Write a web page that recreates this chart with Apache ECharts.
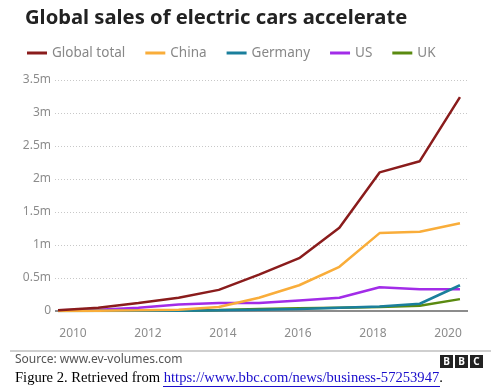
<!DOCTYPE html>
<html>
<head>
<meta charset="utf-8">
<script src="https://cdn.jsdelivr.net/npm/echarts@6/dist/echarts.min.js"></script>
<style>
html,body{margin:0;padding:0;background:#fff;}
#chart{width:499px;height:392px;}
</style>
</head>
<body>
<div id="chart"></div>
<script>
// ---- data ----
const years = [2010, 2011, 2012, 2013, 2014, 2015, 2016, 2017, 2018, 2019, 2020];
const globalTotal = [0.01, 0.05, 0.12, 0.2, 0.32, 0.55, 0.8, 1.26, 2.1, 2.27, 3.24];
const china = [0.0, 0.005, 0.01, 0.02, 0.06, 0.2, 0.39, 0.67, 1.18, 1.2, 1.33];
const germany = [0.0, 0.002, 0.003, 0.005, 0.01, 0.02, 0.03, 0.05, 0.07, 0.11, 0.39];
const us = [0.01, 0.02, 0.05, 0.1, 0.12, 0.12, 0.16, 0.2, 0.36, 0.33, 0.33];
const uk = [0.0, 0.001, 0.002, 0.004, 0.015, 0.03, 0.04, 0.05, 0.06, 0.08, 0.18];
const xTickLabels = [2010, 2012, 2014, 2016, 2018, 2020];
const yTickValues = [0, 0.5, 1, 1.5, 2, 2.5, 3, 3.5];
const yTickLabels = ['0', '0.5m', '1m', '1.5m', '2m', '2.5m', '3m', '3.5m'];
const seriesNames = ['Global total', 'China', 'Germany', 'US', 'UK'];
const seriesColors = ['#8a1c1c', '#f9ad3a', '#1a7f9c', '#a22ce8', '#5a8a10'];
const seriesData = [globalTotal, china, germany, us, uk];

const chart = echarts.init(document.getElementById('chart'), null, {renderer: 'canvas'});
const font = '"Noto Sans", "Open Sans", sans-serif';

const series = seriesNames.map((name, i) => ({
  name: name,
  type: 'line',
  xAxisIndex: 0,
  data: years.map((y, k) => [y, seriesData[i][k]]),
  symbol: 'none',
  z: 10 - i,
  lineStyle: {color: seriesColors[i], width: 2.5},
  itemStyle: {color: seriesColors[i]}
})).reverse();

chart.setOption({
  animation: false,
  backgroundColor: '#fff',
  title: {
    text: 'Global sales of electric cars accelerate',
    left: 20, top: 3,
    textStyle: {fontFamily: font, fontWeight: 'bold', fontSize: 20.2, color: '#222'}
  },
  legend: {
    data: seriesNames,
    left: 22, top: 41,
    icon: 'rect',
    itemWidth: 20, itemHeight: 3,
    itemGap: 20,
    textStyle: {fontFamily: font, fontSize: 13.5, color: '#888'}
  },
  grid: {left: 55, right: 31, top: 80, bottom: 81, containLabel: false},
  xAxis: [
    {
      type: 'value', min: 2009.925, max: 2020.2,
      show: false
    },
    {
      type: 'value', min: 2009.52, max: 2020.533,
      position: 'bottom',
      axisLine: {show: false},
      axisTick: {show: false},
      splitLine: {show: false},
      axisLabel: {
        customValues: xTickLabels,
        formatter: v => String(v),
        fontFamily: font, fontSize: 12, color: '#8c8c8c', margin: 17
      }
    }
  ],
  yAxis: {
    type: 'value', min: 0, max: 3.5, interval: 0.5,
    axisLine: {show: false},
    axisTick: {show: false},
    axisLabel: {
      formatter: v => yTickLabels[yTickValues.indexOf(v)] ?? '',
      fontFamily: font, fontSize: 12, color: '#8c8c8c', margin: 4
    },
    splitLine: {
      lineStyle: {color: '#c8c8c8', type: [1, 2], width: 1},
      showMinLine: false
    }
  },
  series: [
    {
      type: 'line', xAxisIndex: 0, silent: true, symbol: 'none',
      data: [],
      markLine: {
        silent: true, symbol: 'none', label: {show: false},
        lineStyle: {color: '#666', type: 'solid', width: 1.5},
        data: [{yAxis: 0}]
      },
      z: 1
    }
  ].concat(series),
  graphic: [
    {type: 'rect', shape: {x: 10, y: 350, width: 481, height: 2}, style: {fill: '#cfcfcf'}},
    {type: 'text', left: 15, top: 354, style: {text: 'Source: www.ev-volumes.com', font: '12px "Noto Sans", sans-serif', fill: '#555'}},
    {type: 'group', left: 440, top: 355, children: [
      {type: 'rect', shape: {x: 0, y: 0, width: 13, height: 13}, style: {fill: '#222'}},
      {type: 'text', x: 6.5, y: 7, style: {text: 'B', font: 'bold 10px "Noto Sans", sans-serif', fill: '#fff', align: 'center', verticalAlign: 'middle'}},
      {type: 'rect', shape: {x: 15, y: 0, width: 13, height: 13}, style: {fill: '#222'}},
      {type: 'text', x: 21.5, y: 7, style: {text: 'B', font: 'bold 10px "Noto Sans", sans-serif', fill: '#fff', align: 'center', verticalAlign: 'middle'}},
      {type: 'rect', shape: {x: 30, y: 0, width: 13, height: 13}, style: {fill: '#222'}},
      {type: 'text', x: 36.5, y: 7, style: {text: 'C', font: 'bold 10px "Noto Sans", sans-serif', fill: '#fff', align: 'center', verticalAlign: 'middle'}}
    ]},
    {type: 'text', left: 15, top: 371, style: {
      text: '{a|Figure 2. Retrieved from }{b|https://www.bbc.com/news/business-57253947}{a|.}',
      rich: {
        a: {font: '14.6px "Liberation Serif", "Times New Roman", serif', fill: '#000'},
        b: {font: '14.6px "Liberation Serif", "Times New Roman", serif', fill: '#1a0dcc'}
      }
    }},
    {type: 'rect', shape: {x: 163, y: 386, width: 277, height: 1}, style: {fill: '#1a0dcc'}}
  ]
});
</script>
</body>
</html>
